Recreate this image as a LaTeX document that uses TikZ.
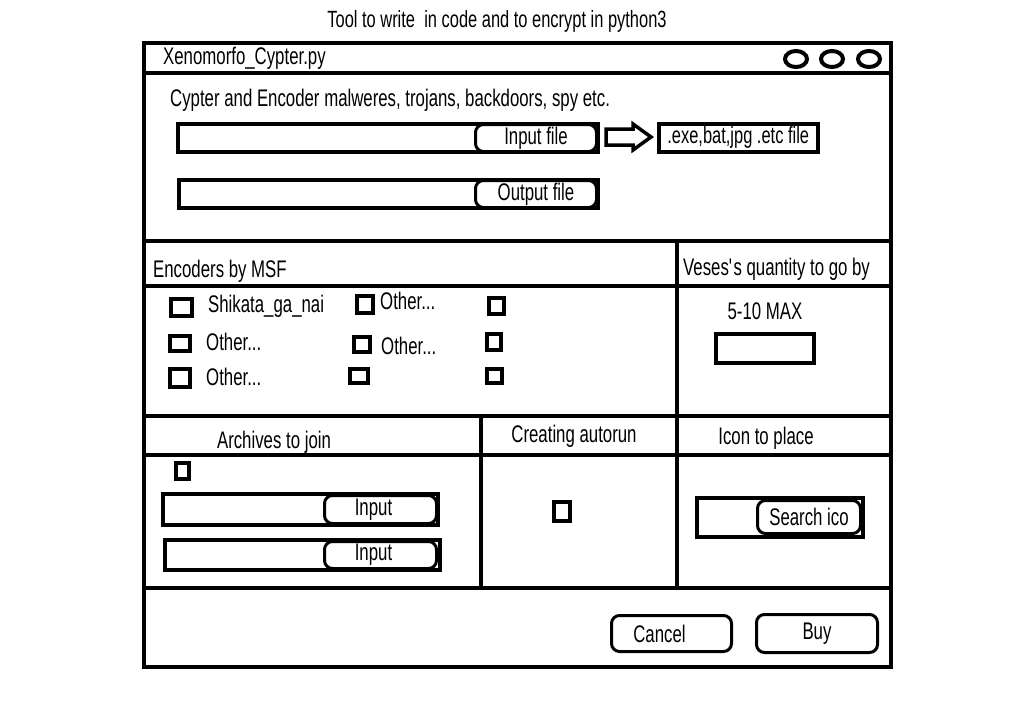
\documentclass[tikz,border=0pt]{standalone}
\usepackage{fontspec}
\setmainfont[FakeStretch=0.7]{Liberation Sans}
\newcommand\uif{\fontsize{24}{27}\selectfont}
\newcommand\uifs{\fontsize{23.5}{26}\selectfont}
\begin{document}
\begin{tikzpicture}[x=1pt,y=-1pt,
  lw/.style={line width=4pt},
  box/.style={draw, line width=4pt, inner sep=0pt, anchor=north west},
  btn/.style={draw, line width=3pt, rounded corners=8pt, fill=white, inner sep=0pt, anchor=north west, font=\uif},
  chk/.style={draw, line width=4pt, inner sep=0pt, anchor=north west},
  lbl/.style={inner sep=0pt, font=\uif}]
\useasboundingbox[fill=white] (0,0) rectangle (1023,715);

% caption
\node[lbl, font=\uifs] (cap) at (497,21) {Tool to write\ \ in code and to encrypt in python3};

% window
\node[box, minimum width=747, minimum height=624] (win) at (142,41) {};
\draw[lw] (142,73) -- (889,73);
\node[lbl, anchor=west] (ttl) at (163,58) {Xenomorfo\_Cypter.py};
\draw[lw] (796,59) ellipse [x radius=11, y radius=8];
\draw[lw] (832,59) ellipse [x radius=11, y radius=8];
\draw[lw] (869,59) ellipse [x radius=11, y radius=8];

% top section
\node[lbl, anchor=west] (desc) at (170,100) {Cypter and Encoder malweres, trojans, backdoors, spy etc.};
\node[box, minimum width=420, minimum height=28] (f1) at (176,122) {};
\node[btn, minimum width=121, minimum height=27] (b1) at (474,123) {Input file};
\node[box, line width=3.5pt, minimum width=159, minimum height=28, font=\uifs] (exe) at (657,122) {.exe,bat,jpg .etc file};
\draw[line width=3.5pt, line join=miter]
  (606,129) -- (633,129) -- (633,124) -- (651,137) -- (633,150) -- (633,145) -- (606,145) -- cycle;
\node[box, minimum width=419, minimum height=28] (f2) at (177,178) {};
\node[btn, minimum width=121, minimum height=27] (b2) at (474,179) {Output file};

% grid lines
\draw[lw] (142,241) -- (889,241);
\draw[lw] (142,286) -- (889,286);
\draw[lw] (142,416) -- (892,416);
\draw[lw] (142,455) -- (889,455);
\draw[lw] (142,588) -- (889,588);
\draw[lw] (677,241) -- (677,588);
\draw[lw] (481,416) -- (481,588);

% encoders
\node[lbl, anchor=west] (enc) at (153,271) {Encoders by MSF};
\node[chk, minimum width=21, minimum height=17] (c11) at (169,297) {};
\node[chk, minimum width=16, minimum height=17] (c12) at (355,294) {};
\node[chk, minimum width=15, minimum height=16] (c13) at (487,296) {};
\node[chk, minimum width=20, minimum height=15] (c21) at (168,334) {};
\node[chk, minimum width=16, minimum height=15] (c22) at (352,335) {};
\node[chk, minimum width=14, minimum height=16] (c23) at (485,332) {};
\node[chk, minimum width=20, minimum height=18] (c31) at (168,367) {};
\node[chk, minimum width=18, minimum height=14] (c32) at (348,367) {};
\node[chk, minimum width=15, minimum height=14] (c33) at (485,367) {};
\node[lbl, anchor=west] (t11) at (208,306) {Shikata\_ga\_nai};
\node[lbl, anchor=west] (t12) at (380,301) {Other...};
\node[lbl, anchor=west] (t21) at (206,342) {Other...};
\node[lbl, anchor=west] (t22) at (381,346) {Other...};
\node[lbl, anchor=west] (t31) at (206,377) {Other...};

% quantity
\node[lbl, anchor=west] (qty) at (683,269) {Veses\textquotesingle s quantity to go by};
\node[lbl] (max) at (765,311) {5-10 MAX};
\node[box, minimum width=98, minimum height=29] (qbox) at (714,332) {};

% bottom sections
\node[lbl] (arch) at (274,442) {Archives to join};
\node[lbl] (auto) at (574,436) {Creating autorun};
\node[lbl] (icon) at (766,438) {Icon to place};
\node[chk, minimum width=13, minimum height=16] (ca) at (174,461) {};
\node[box, minimum width=275, minimum height=31] (i1) at (161,492) {};
\node[btn, minimum width=112, minimum height=28] (ib1) at (323,494) {\hspace*{-14pt}Input};
\node[box, minimum width=275, minimum height=30] (i2) at (163,538) {};
\node[btn, minimum width=112, minimum height=27] (ib2) at (323,540) {\hspace*{-14pt}Input};
\node[chk, minimum width=16, minimum height=19] (cauto) at (552,500) {};
\node[box, minimum width=166, minimum height=39] (sf) at (695,496) {};
\node[btn, minimum width=103, minimum height=33] (sb) at (756,499) {Search ico};

% buttons
\node[btn, minimum width=120, minimum height=36] (cancel) at (610,614) {\hspace*{-24pt}Cancel};
\node[btn, minimum width=121, minimum height=38] (buy) at (755,613) {Buy};
\end{tikzpicture}
\end{document}
